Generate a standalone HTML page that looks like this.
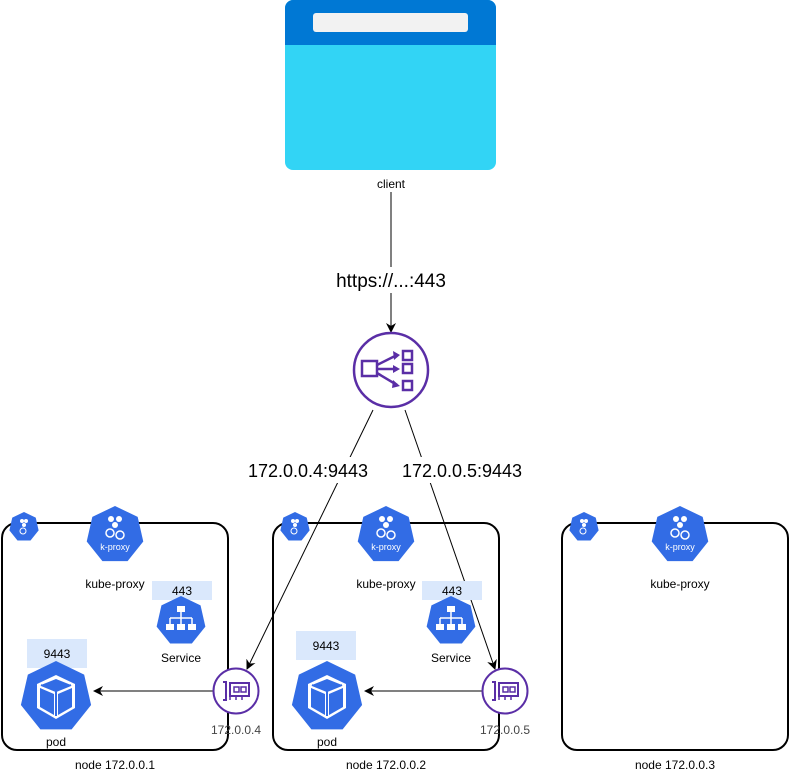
<!DOCTYPE html>
<html><head><meta charset="utf-8"><style>
html,body{margin:0;padding:0;background:#fff;width:792px;height:772px;overflow:hidden}
svg{display:block;font-family:"Liberation Sans",Arial,sans-serif}
</style></head><body>
<svg width="792" height="772" viewBox="0 0 792 772" xmlns="http://www.w3.org/2000/svg">
<defs>
<polygon id="hep" points="0,-1 0.782,-0.623 0.975,0.223 0.434,0.901 -0.434,0.901 -0.975,0.223 -0.782,-0.623"/>
<marker id="ar" markerWidth="10" markerHeight="10" refX="9" refY="5" orient="auto" markerUnits="userSpaceOnUse">
<path d="M0,0 L10,5 L0,10 L3,5 z" fill="#000"/></marker>
<g id="kp">
<use href="#hep" transform="scale(29)" fill="#326ce5"/>
<circle cx="-4" cy="-16" r="3" fill="#fff"/><circle cx="4" cy="-16" r="3" fill="#fff"/><circle cx="0" cy="-10" r="3" fill="#fff"/>
<circle cx="-5" cy="-2" r="4" fill="none" stroke="#fff" stroke-width="1.5"/><circle cx="5" cy="0" r="4" fill="none" stroke="#fff" stroke-width="1.5"/>
<text x="0" y="15" font-size="9" fill="#fff" text-anchor="middle">k-proxy</text>
</g>
<g id="sm">
<use href="#hep" transform="scale(15)" fill="#326ce5"/>
<circle cx="-2" cy="-6" r="2" fill="#fff"/><circle cx="2" cy="-6" r="2" fill="#fff"/><circle cx="0" cy="-2" r="2" fill="#fff"/>
<circle cx="-1" cy="4" r="3" fill="none" stroke="#fff" stroke-width="1"/>
</g>
<g id="svc">
<use href="#hep" transform="scale(25)" fill="#326ce5"/>
<rect x="-4" y="-15" width="8" height="6" fill="#fff"/>
<path d="M0,-9 V-3 M-11,-3 H11 M-11,-3 V3 M0,-3 V3 M11,-3 V3" stroke="#fff" stroke-width="1.5" fill="none"/>
<rect x="-15" y="3" width="8" height="6" fill="#fff"/><rect x="-4" y="3" width="8" height="6" fill="#fff"/><rect x="7" y="3" width="8" height="6" fill="#fff"/>
</g>
<g id="pod">
<use href="#hep" transform="scale(36)" fill="#326ce5"/>
<path d="M0,-22 L19,-13 L19,11 L0,22 L-19,11 L-19,-13 Z" fill="#fff"/>
<path d="M0,-18 L15,-12 L0,-6 L-15,-12 Z M-16,-9 L-2,-3 L-2,18 L-16,10 Z M16,-9 L2,-3 L2,18 L16,10 Z" fill="#326ce5"/>
<path d="M-15,-12 L0,-6 L15,-12 M0,-6 V19" stroke="#326ce5" stroke-width="2" fill="none"/>
</g>
<g id="nic">
<circle r="22.5" fill="#fff" stroke="#5a2ea6" stroke-width="2"/>
<path d="M-13,-9 H-10 V9 H-13" stroke="#5a2ea6" stroke-width="2" fill="none"/>
<rect x="-6" y="-8" width="19" height="13" stroke="#5a2ea6" stroke-width="2" fill="none"/>
<rect x="-2" y="-4" width="5" height="5" stroke="#5a2ea6" stroke-width="1.5" fill="none"/><rect x="5" y="-4" width="5" height="5" stroke="#5a2ea6" stroke-width="1.5" fill="none"/>
<path d="M-6,5 V9 M0,5 V9 M6,5 V9" stroke="#5a2ea6" stroke-width="1.5"/>
</g>
</defs>

<rect x="285" y="0" width="211" height="170" rx="8" fill="#32d4f5"/>
<path d="M285,45 V8 A8,8 0 0 1 293,0 H488 A8,8 0 0 1 496,8 V45 Z" fill="#0078d4"/>
<rect x="313" y="13" width="155" height="19" rx="3" fill="#f2f2f2"/>
<text x="391" y="188" font-size="12" text-anchor="middle">client</text>

<line x1="391" y1="192" x2="391" y2="332" stroke="#000" marker-end="url(#ar)"/>
<rect x="328" y="267" width="126" height="26" fill="#fff"/>
<text x="391" y="287" font-size="19" text-anchor="middle">https://...:443</text>

<circle cx="391" cy="370" r="37" fill="#fff" stroke="#5a2ea6" stroke-width="2.5"/>
<rect x="362" y="361" width="15" height="15" stroke="#5a2ea6" stroke-width="2.5" fill="none"/>
<rect x="403" y="351" width="9" height="9" stroke="#5a2ea6" stroke-width="2.5" fill="none"/>
<rect x="403" y="364" width="9" height="9" stroke="#5a2ea6" stroke-width="2.5" fill="none"/>
<rect x="403" y="381" width="9" height="9" stroke="#5a2ea6" stroke-width="2.5" fill="none"/>
<path d="M377,365 L397,355 M377,369 H397 M377,373 L397,385" stroke="#5a2ea6" stroke-width="2.5"/>
<path d="M393,351 L400,355 L394,360 Z M393,365 L400,369 L393,373 Z M393,380 L400,386 L392,388 Z" fill="#5a2ea6"/>

<rect x="2" y="523" width="226" height="227" rx="15" fill="none" stroke="#000" stroke-width="2"/>
<rect x="273" y="523" width="226" height="227" rx="15" fill="none" stroke="#000" stroke-width="2"/>
<rect x="562" y="523" width="226" height="227" rx="15" fill="none" stroke="#000" stroke-width="2"/>

<line x1="373" y1="410" x2="247" y2="669" stroke="#000" marker-end="url(#ar)"/>
<line x1="405" y1="410" x2="495" y2="669" stroke="#000" marker-end="url(#ar)"/>
<rect x="241" y="457" width="134" height="26" fill="#fff"/>
<text x="308" y="477" font-size="18" text-anchor="middle">172.0.0.4:9443</text>
<rect x="395" y="457" width="134" height="26" fill="#fff"/>
<text x="462" y="477" font-size="18" text-anchor="middle">172.0.0.5:9443</text>

<g>
<use href="#sm" x="24" y="527"/>
<use href="#kp" x="115" y="535"/>
<text x="115" y="588" font-size="12" text-anchor="middle">kube-proxy</text>
<rect x="152" y="581" width="60" height="19" fill="#dae8fc"/>
<text x="182" y="595" font-size="12" text-anchor="middle">443</text>
<use href="#svc" x="181" y="621"/>
<text x="181" y="662" font-size="12" text-anchor="middle">Service</text>
<rect x="27" y="639" width="60" height="29" fill="#dae8fc"/>
<text x="57" y="658" font-size="12" text-anchor="middle">9443</text>
<use href="#pod" x="56" y="697"/>
<text x="56" y="746" font-size="12" text-anchor="middle">pod</text>
<line x1="213" y1="691" x2="94" y2="691" stroke="#000" marker-end="url(#ar)"/>
<use href="#nic" x="236" y="691"/>
<text x="236" y="734" font-size="12" fill="#444" text-anchor="middle">172.0.0.4</text>
<text x="115" y="769" font-size="12" text-anchor="middle">node 172.0.0.1</text>
</g>

<g>
<use href="#sm" x="295" y="527"/>
<use href="#kp" x="386" y="535"/>
<text x="386" y="588" font-size="12" text-anchor="middle">kube-proxy</text>
<rect x="422" y="581" width="60" height="19" fill="#dae8fc"/>
<text x="452" y="595" font-size="12" text-anchor="middle">443</text>
<use href="#svc" x="451" y="621"/>
<text x="451" y="662" font-size="12" text-anchor="middle">Service</text>
<rect x="296" y="631" width="60" height="29" fill="#dae8fc"/>
<text x="326" y="650" font-size="12" text-anchor="middle">9443</text>
<use href="#pod" x="327" y="697"/>
<text x="327" y="746" font-size="12" text-anchor="middle">pod</text>
<line x1="483" y1="691" x2="365" y2="691" stroke="#000" marker-end="url(#ar)"/>
<use href="#nic" x="505" y="691"/>
<text x="505" y="734" font-size="12" fill="#444" text-anchor="middle">172.0.0.5</text>
<text x="386" y="769" font-size="12" text-anchor="middle">node 172.0.0.2</text>
</g>

<g>
<use href="#sm" x="584" y="527"/>
<use href="#kp" x="680" y="535"/>
<text x="680" y="588" font-size="12" text-anchor="middle">kube-proxy</text>
<text x="675" y="769" font-size="12" text-anchor="middle">node 172.0.0.3</text>
</g>
</svg>
</body></html>
